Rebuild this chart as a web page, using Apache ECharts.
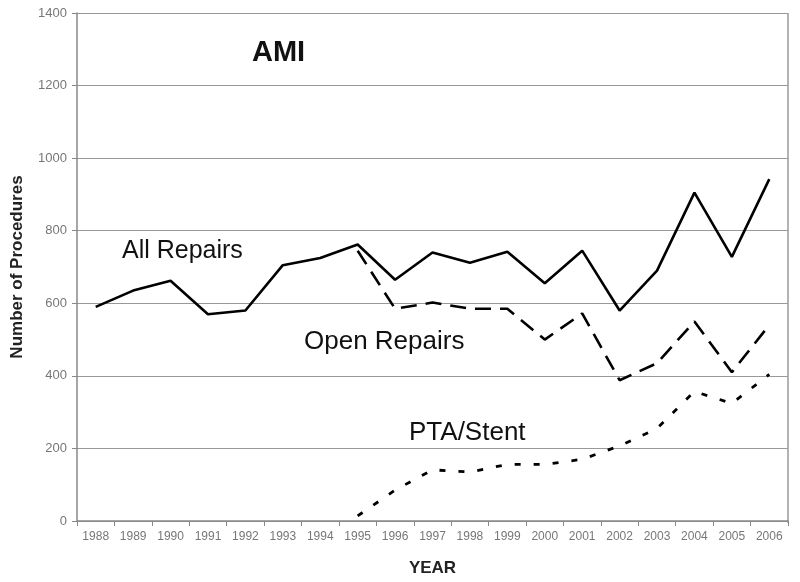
<!DOCTYPE html>
<html>
<head>
<meta charset="utf-8">
<script src="https://cdn.jsdelivr.net/npm/echarts@6/dist/echarts.min.js"></script>
<style>
  html, body { margin: 0; padding: 0; background: #fff; }
  #chart { width: 800px; height: 582px; }
</style>
</head>
<body>
<div id="chart"></div>
<script>
const years = ['1988', '1989', '1990', '1991', '1992', '1993', '1994', '1995', '1996', '1997',
  '1998', '1999', '2000', '2001', '2002', '2003', '2004', '2005', '2006']
const allRepairs = [590, 635, 662, 570, 580, 705, 725, 762, 665, 740, 712, 742, 655, 745, 580, 690, 905, 728, 942]
const openRepairs = [null, null, null, null, null, null, null, 745, 585, 602, 585, 585, 500, 572, 388, 435, 550, 410, 540]
const ptaStent = [null, null, null, null, null, null, null, 14, 85, 141, 135, 156, 156, 170, 207, 255, 357, 324, 404]

const chart = echarts.init(document.getElementById('chart'))

const lineBase = { type: 'line', symbol: 'none', smooth: false, animation: false, connectNulls: false }
const font = 'Arial, Liberation Sans'

chart.setOption({
  backgroundColor: '#fff',
  grid: { left: 77, right: 12, top: 13, bottom: 59 },
  xAxis: {
    type: 'category',
    data: years,
    boundaryGap: true,
    axisLine: { lineStyle: { color: '#888', width: 1.5 } },
    axisTick: { show: true, alignWithLabel: false, length: 5, lineStyle: { color: '#888' } },
    axisLabel: { color: '#777', fontSize: 12, fontFamily: font, margin: 10 },
    name: 'YEAR',
    nameLocation: 'middle',
    nameGap: 39,
    nameTextStyle: { fontWeight: 'bold', fontSize: 17, color: '#222', fontFamily: font }
  },
  yAxis: {
    type: 'value',
    min: 0,
    max: 1400,
    interval: 200,
    axisLine: { show: true, lineStyle: { color: '#888', width: 1.5 } },
    axisTick: { show: true, length: 5, lineStyle: { color: '#888' } },
    axisLabel: { color: '#777', fontSize: 13, fontFamily: font, margin: 10, formatter: v => String(v) },
    splitLine: { lineStyle: { color: '#999', width: 1.2 } },
    name: 'Number of Procedures',
    nameLocation: 'middle',
    nameGap: 51,
    nameTextStyle: { fontWeight: 'bold', fontSize: 17, color: '#222', fontFamily: font }
  },
  series: [
    Object.assign({}, lineBase, {
      name: 'Open Repairs',
      data: openRepairs,
      lineStyle: { color: '#000', width: 2.6, type: [16, 9] }
    }),
    Object.assign({}, lineBase, {
      name: 'PTA/Stent',
      data: ptaStent,
      lineStyle: { color: '#000', width: 2.8, type: [6, 13] }
    }),
    Object.assign({}, lineBase, {
      name: 'All Repairs',
      data: allRepairs,
      lineStyle: { color: '#000', width: 2.6 }
    })
  ],
  graphic: [
    { type: 'line', shape: { x1: 788, y1: 13, x2: 788, y2: 523 }, style: { stroke: '#999', lineWidth: 1.5 } },
    { type: 'text', left: 252, top: 38, style: { text: 'AMI', font: 'bold 29px ' + font, fill: '#111', letterSpacing: 1 } },
    { type: 'text', left: 122, top: 239, style: { text: 'All Repairs', font: '25px ' + font, fill: '#111' } },
    { type: 'text', left: 304, top: 329, style: { text: 'Open Repairs', font: '26px ' + font, fill: '#111' } },
    { type: 'text', left: 409, top: 420, style: { text: 'PTA/Stent', font: '26px ' + font, fill: '#111' } }
  ]
})
</script>
</body>
</html>
